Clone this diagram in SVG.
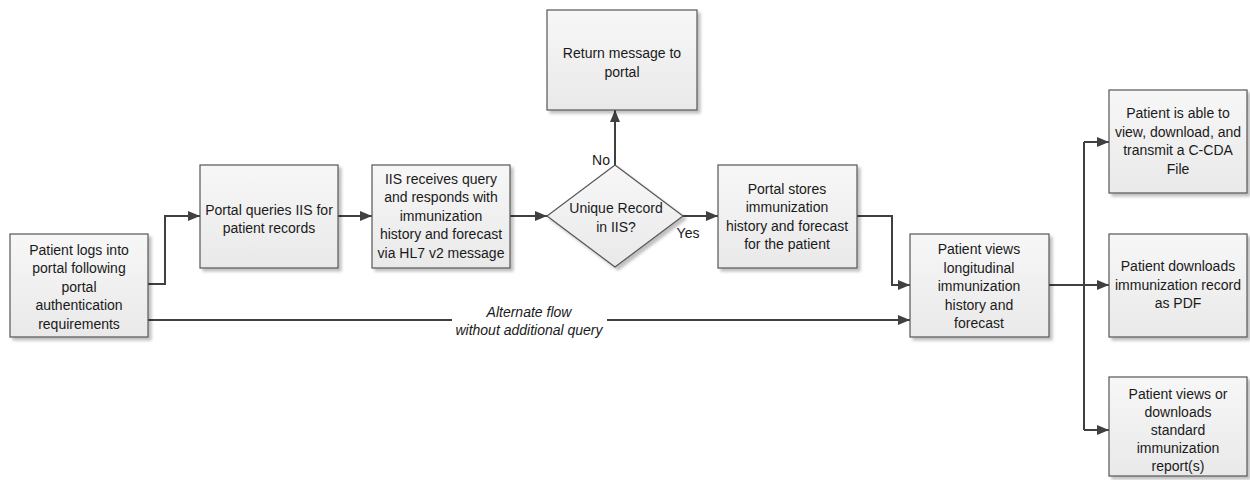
<svg xmlns="http://www.w3.org/2000/svg" width="1250" height="480" viewBox="0 0 1250 480">
  <defs>
    <linearGradient id="boxfill" x1="0" y1="0" x2="0" y2="1">
      <stop offset="0" stop-color="#f7f7f7"/>
      <stop offset="1" stop-color="#e9e9e9"/>
    </linearGradient>
    <filter id="shadow" x="-10%" y="-10%" width="130%" height="130%">
      <feGaussianBlur in="SourceAlpha" stdDeviation="1.5"/>
      <feOffset dx="3" dy="3" result="b"/>
      <feComponentTransfer><feFuncA type="linear" slope="0.25"/></feComponentTransfer>
      <feMerge><feMergeNode/><feMergeNode in="SourceGraphic"/></feMerge>
    </filter>
    <marker id="arrow" viewBox="0 0 12 10" refX="12" refY="5" markerWidth="12" markerHeight="10" markerUnits="userSpaceOnUse" orient="auto">
      <path d="M0,0 L12,5 L0,10 Z" fill="#404040"/>
    </marker>
    <style>
      .box { fill: url(#boxfill); stroke: #555555; stroke-width: 1.2; filter: url(#shadow); }
      .t { font-family: "Liberation Sans", Arial, sans-serif; font-size: 14px; fill: #1a1a1a; text-anchor: middle; }
      .it { font-style: italic; }
      .c { fill: none; stroke: #404040; stroke-width: 2; }
      .ca { fill: none; stroke: #404040; stroke-width: 2; marker-end: url(#arrow); }
    </style>
  </defs>

  <g id="connectors">
    <path class="ca" d="M148,284 H165 V216 H200"/>
    <path class="ca" d="M338,216 H372"/>
    <path class="ca" d="M510,216 H547"/>
    <path class="ca" d="M615,165 V110"/>
    <path class="ca" d="M683,216 H718"/>
    <path class="ca" d="M857,216 H892 V285 H910"/>
    <path class="c" d="M148,320 H452"/>
    <path class="ca" d="M607,320 H910"/>
    <path class="ca" d="M1049,285 H1109"/>
    <path class="c" d="M1084,142 V430"/>
    <path class="ca" d="M1084,142 H1109"/>
    <path class="ca" d="M1084,430 H1109"/>
    <text class="t it" x="529" y="317">Alternate flow</text>
    <text class="t it" x="529" y="335">without additional query</text>
    <text class="t" x="601" y="165">No</text>
    <text class="t" x="688" y="238">Yes</text>
  </g>

  <g id="n-login">
    <rect class="box" x="10" y="234" width="138" height="103"/>
    <text class="t" x="79" y="255">Patient logs into</text>
    <text class="t" x="79" y="273">portal following</text>
    <text class="t" x="79" y="292">portal</text>
    <text class="t" x="79" y="310">authentication</text>
    <text class="t" x="79" y="329">requirements</text>
  </g>

  <g id="n-query">
    <rect class="box" x="200" y="165" width="138" height="103"/>
    <text class="t" x="269" y="215">Portal queries IIS for</text>
    <text class="t" x="269" y="233">patient records</text>
  </g>

  <g id="n-iis">
    <rect class="box" x="372" y="165" width="138" height="103"/>
    <text class="t" x="441" y="184">IIS receives query</text>
    <text class="t" x="441" y="202">and responds with</text>
    <text class="t" x="441" y="221">immunization</text>
    <text class="t" x="441" y="239">history and forecast</text>
    <text class="t" x="441" y="258">via HL7 v2 message</text>
  </g>

  <g id="n-decision">
    <polygon class="box" points="615,165 683,216 615,267 547,216"/>
    <text class="t" x="616" y="213">Unique Record</text>
    <text class="t" x="616" y="232">in IIS?</text>
  </g>

  <g id="n-return">
    <rect class="box" x="547" y="10" width="150" height="100"/>
    <text class="t" x="622" y="58">Return message to</text>
    <text class="t" x="622" y="77">portal</text>
  </g>

  <g id="n-store">
    <rect class="box" x="718" y="165" width="139" height="103"/>
    <text class="t" x="787" y="194">Portal stores</text>
    <text class="t" x="787" y="212">immunization</text>
    <text class="t" x="787" y="231">history and forecast</text>
    <text class="t" x="787" y="249">for the patient</text>
  </g>

  <g id="n-views">
    <rect class="box" x="910" y="234" width="139" height="103"/>
    <text class="t" x="979" y="254">Patient views</text>
    <text class="t" x="979" y="273">longitudinal</text>
    <text class="t" x="979" y="291">immunization</text>
    <text class="t" x="979" y="310">history and</text>
    <text class="t" x="979" y="328">forecast</text>
  </g>

  <g id="n-ccda">
    <rect class="box" x="1109" y="90" width="138" height="103"/>
    <text class="t" x="1178" y="118">Patient is able to</text>
    <text class="t" x="1178" y="137">view, download, and</text>
    <text class="t" x="1178" y="155">transmit a C-CDA</text>
    <text class="t" x="1178" y="174">File</text>
  </g>

  <g id="n-pdf">
    <rect class="box" x="1109" y="234" width="138" height="103"/>
    <text class="t" x="1178" y="271">Patient downloads</text>
    <text class="t" x="1178" y="290">immunization record</text>
    <text class="t" x="1178" y="308">as PDF</text>
  </g>

  <g id="n-report">
    <rect class="box" x="1109" y="377" width="138" height="99"/>
    <text class="t" x="1178" y="399">Patient views or</text>
    <text class="t" x="1178" y="417">downloads</text>
    <text class="t" x="1178" y="435">standard</text>
    <text class="t" x="1178" y="453">immunization</text>
    <text class="t" x="1178" y="471">report(s)</text>
  </g>
</svg>
